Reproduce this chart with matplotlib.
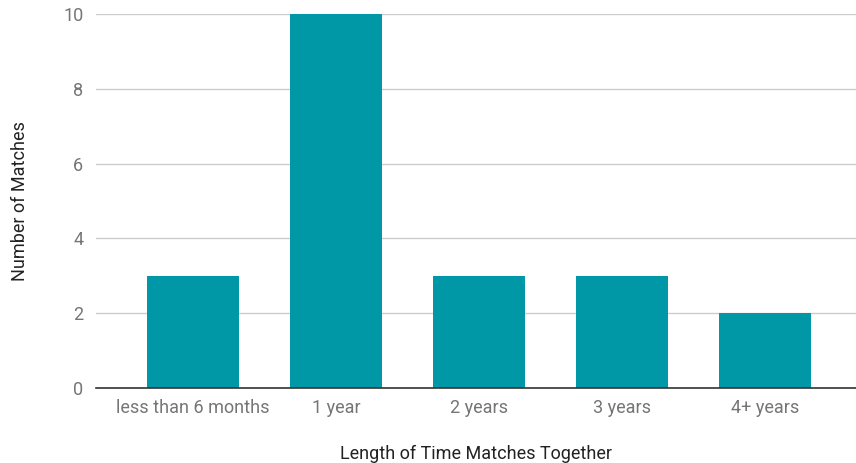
import matplotlib
matplotlib.use("Agg")
import matplotlib.pyplot as plt

categories = ["less than 6 months", "1 year", "2 years", "3 years", "4+ years"]
values = [3, 10, 3, 3, 2]
yticks = [0, 2, 4, 6, 8, 10]

plt.rcParams['font.family'] = ['Roboto', 'DejaVu Sans']

fig = plt.figure(figsize=(8.56, 4.63), dpi=100)
ax = fig.add_axes([96/856, 75/463, 1 - 96/856, (388-14)/463])

x = list(range(len(categories)))
ax.bar(x, values, width=0.645, color="#0097A7", zorder=3)
ax.set_xlim(-0.678, 4.636)
ax.set_ylim(0, 10)
ax.set_yticks(yticks)
ax.set_xticks(x)
ax.set_xticklabels(categories)
ax.grid(axis='y', color='#cccccc', linewidth=1, zorder=0)
for s in ['top', 'right', 'left']:
    ax.spines[s].set_visible(False)
ax.spines['bottom'].set_color('#333333')
ax.spines['bottom'].set_linewidth(1.2)
ax.spines['bottom'].set_zorder(4)
ax.tick_params(axis='both', length=0, labelsize=13, labelcolor='#757575')
ax.tick_params(axis='y', pad=9)
ax.tick_params(axis='x', pad=8)
ax.set_xlabel("Length of Time Matches Together", fontsize=13, color='#222222', labelpad=20)
ax.set_ylabel("Number of Matches", fontsize=13, color='#222222', labelpad=25)

fig.savefig("out.png", dpi=100)
